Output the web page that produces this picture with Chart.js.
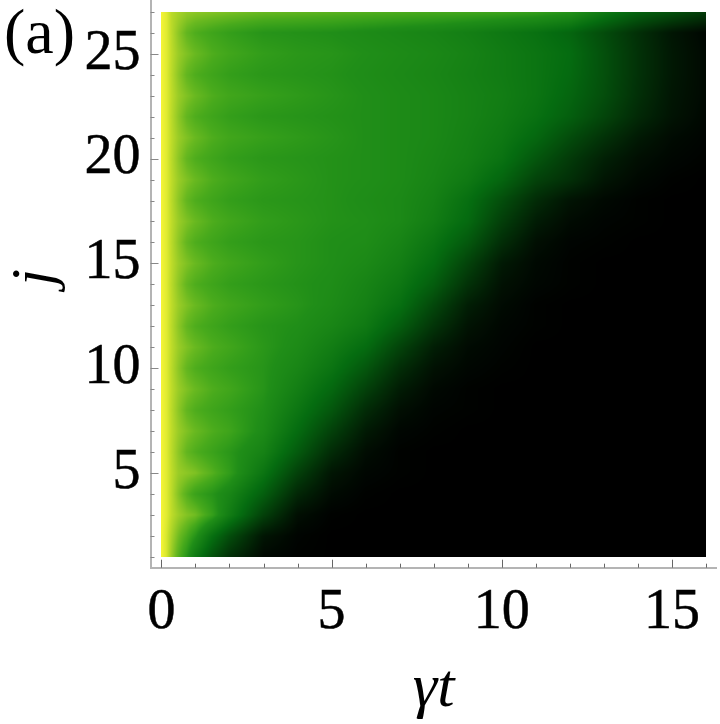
<!DOCTYPE html>
<html>
<head>
<meta charset="utf-8">
<style>
  html, body { margin: 0; background: #fff; }
  canvas { display: block; }
</style>
<script src="https://cdn.jsdelivr.net/npm/chart.js@4"></script>
</head>
<body>
<canvas id="chart" width="720" height="724"></canvas>
<script>
const panelLabel = "(a)";
const xTitle = "\u03B3t";
const yTitle = "j";
const xTickLabels = [0, 5, 10, 15];
const yTickLabels = [5, 10, 15, 20, 25];

// time samples (columns of density)
const times = [0, 0.15, 0.3, 0.5, 0.75, 1, 1.5, 2, 3, 4, 5, 6, 7, 8, 9, 10, 11, 12, 13, 14, 15, 16];
// sites (rows of density)
const sites = [1, 2, 3, 4, 5, 6, 7, 8, 9, 10, 11, 12, 13, 14, 15, 16, 17, 18, 19, 20, 21, 22, 23, 24, 25, 26, 27];

// values, first row is j=1
const density = [
  [1, .97, .90, .82, .72, .58, .38, .22, .04, .01, 0, 0, 0, 0, 0, 0, 0, 0, 0, 0, 0, 0],
  [1, .97, .92, .86, .80, .72, .52, .36, .10, .02, 0, 0, 0, 0, 0, 0, 0, 0, 0, 0, 0, 0],
  [1, .98, .945, .91, .88, .86, .76, .60, .30, .07, .01, 0, 0, 0, 0, 0, 0, 0, 0, 0, 0, 0],
  [1, .98, .94, .88, .82, .77, .72, .65, .44, .18, .05, .01, 0, 0, 0, 0, 0, 0, 0, 0, 0, 0],
  [1, .98, .945, .905, .89, .875, .82, .75, .55, .30, .10, .03, .01, 0, 0, 0, 0, 0, 0, 0, 0, 0],
  [1, .98, .94, .89, .84, .81, .77, .73, .63, .42, .20, .06, .01, 0, 0, 0, 0, 0, 0, 0, 0, 0],
  [1, .98, .945, .905, .875, .85, .81, .78, .68, .50, .30, .12, .03, .01, 0, 0, 0, 0, 0, 0, 0, 0],
  [1, .98, .94, .89, .84, .81, .78, .755, .70, .56, .40, .20, .07, .02, .01, 0, 0, 0, 0, 0, 0, 0],
  [1, .98, .945, .905, .875, .85, .81, .785, .72, .61, .48, .30, .13, .04, .01, 0, 0, 0, 0, 0, 0, 0],
  [1, .98, .94, .89, .84, .81, .78, .755, .72, .65, .55, .40, .21, .08, .03, .01, 0, 0, 0, 0, 0, 0],
  [1, .98, .945, .905, .875, .85, .81, .785, .73, .68, .60, .50, .31, .14, .05, .02, 0, 0, 0, 0, 0, 0],
  [1, .98, .94, .89, .84, .81, .78, .755, .72, .70, .65, .58, .43, .24, .09, .03, .01, 0, 0, 0, 0, 0],
  [1, .98, .945, .905, .875, .85, .81, .785, .75, .72, .68, .62, .52, .33, .14, .05, .01, 0, 0, 0, 0, 0],
  [1, .98, .94, .89, .84, .81, .78, .755, .73, .71, .69, .64, .57, .43, .23, .08, .03, .01, 0, 0, 0, 0],
  [1, .98, .945, .905, .875, .85, .81, .785, .75, .72, .70, .67, .61, .50, .31, .12, .04, .01, 0, 0, 0, 0],
  [1, .98, .94, .89, .84, .81, .78, .755, .73, .72, .70, .69, .64, .55, .41, .21, .07, .02, .01, 0, 0, 0],
  [1, .98, .945, .905, .875, .85, .81, .785, .75, .73, .71, .70, .67, .60, .49, .29, .13, .05, .02, .01, 0, 0],
  [1, .98, .94, .89, .84, .81, .78, .755, .73, .72, .71, .69, .67, .62, .52, .36, .20, .09, .04, .01, 0, 0],
  [1, .98, .945, .905, .875, .85, .81, .785, .75, .73, .71, .70, .68, .64, .58, .47, .31, .22, .10, .04, .01, 0],
  [1, .98, .94, .89, .84, .81, .78, .755, .73, .72, .71, .70, .68, .65, .61, .54, .40, .27, .15, .07, .03, .01],
  [1, .98, .945, .905, .875, .85, .81, .785, .76, .74, .72, .70, .68, .66, .62, .57, .48, .35, .23, .12, .05, .02],
  [1, .98, .94, .89, .84, .81, .78, .755, .73, .72, .71, .70, .68, .66, .63, .59, .53, .44, .32, .19, .09, .03],
  [1, .98, .945, .905, .875, .85, .81, .785, .76, .74, .72, .70, .68, .66, .63, .60, .55, .47, .36, .22, .10, .04],
  [1, .98, .94, .89, .84, .81, .78, .755, .73, .72, .71, .69, .67, .65, .62, .59, .55, .49, .37, .23, .11, .04],
  [1, .98, .945, .905, .875, .85, .81, .785, .75, .73, .72, .70, .68, .66, .63, .59, .55, .50, .37, .23, .11, .04],
  [1, .98, .94, .89, .84, .81, .78, .755, .72, .71, .70, .68, .66, .64, .61, .57, .53, .47, .35, .22, .10, .03],
  [1, .98, .94, .92, .90, .89, .88, .87, .85, .84, .83, .82, .81, .80, .79, .78, .76, .72, .58, .46, .38, .28]
];

// color scale: value, r, g, b
const colorStops = [
  [0, 0, 0, 0],
  [0.5, 5, 108, 16],
  [0.7, 32, 142, 24],
  [0.75, 50, 157, 26],
  [0.8, 72, 170, 28],
  [0.85, 105, 185, 32],
  [0.9, 150, 203, 38],
  [0.95, 195, 222, 42],
  [1, 245, 245, 55]
];

function colorAt(v) {
  let i = 1;
  while (i < colorStops.length - 1 && v > colorStops[i][0]) i++;
  const a = colorStops[i - 1], b = colorStops[i];
  const f = (v - a[0]) / (b[0] - a[0]);
  return [a[1] + f * (b[1] - a[1]), a[2] + f * (b[2] - a[2]), a[3] + f * (b[3] - a[3])];
}

function findCell(list, v) {
  let i = 0;
  while (i < list.length - 2 && v > list[i + 1]) i++;
  return [i, Math.min(1, Math.max(0, (v - list[i]) / (list[i + 1] - list[i])))];
}

// Paints the density table between its samples, positions come from the scales
const heatmap = {
  id: "heatmap",
  beforeDatasetsDraw(chart) {
    const { x, y } = chart.scales;
    const left = x.getPixelForValue(times[0]);
    const right = x.getPixelForValue(times[times.length - 1]);
    const top = y.getPixelForValue(sites[sites.length - 1]);
    const bottom = y.getPixelForValue(sites[0]);
    const w = Math.round(right - left), h = Math.round(bottom - top);
    const off = document.createElement("canvas");
    off.width = w;
    off.height = h;
    const octx = off.getContext("2d");
    const img = octx.createImageData(w, h);
    for (let py = 0; py < h; py++) {
      const [r, fr] = findCell(sites, y.getValueForPixel(top + (py + 0.5) * (bottom - top) / h));
      for (let px = 0; px < w; px++) {
        const [c, fc] = findCell(times, x.getValueForPixel(left + (px + 0.5) * (right - left) / w));
        const low = density[r][c] * (1 - fc) + density[r][c + 1] * fc;
        const high = density[r + 1][c] * (1 - fc) + density[r + 1][c + 1] * fc;
        const rgb = colorAt(low * (1 - fr) + high * fr);
        const k = (py * w + px) * 4;
        img.data[k] = rgb[0];
        img.data[k + 1] = rgb[1];
        img.data[k + 2] = rgb[2];
        img.data[k + 3] = 255;
      }
    }
    octx.putImageData(img, 0, 0);
    chart.ctx.drawImage(off, left, top, right - left, bottom - top);
  }
};

// Mathematica style ticks pointing into the frame, plus panel label and j title
const frameTicks = {
  id: "frameTicks",
  afterDraw(chart) {
    const { ctx } = chart;
    const { x, y } = chart.scales;
    ctx.save();
    ctx.lineWidth = 1;
    ctx.strokeStyle = "#666";
    x.ticks.forEach((t) => {
      const px = Math.round(x.getPixelForValue(t.value)) + 0.5;
      const len = xTickLabels.includes(t.value) ? 8 : 4;
      ctx.beginPath();
      ctx.moveTo(px, y.bottom);
      ctx.lineTo(px, y.bottom - len);
      ctx.stroke();
    });
    ctx.strokeStyle = "#888";
    y.ticks.forEach((t) => {
      const py = Math.round(y.getPixelForValue(t.value)) + 0.5;
      const len = yTickLabels.includes(t.value) ? 8 : 4;
      ctx.beginPath();
      ctx.moveTo(x.left, py);
      ctx.lineTo(x.left + len, py);
      ctx.stroke();
    });
    ctx.fillStyle = "#000";
    ctx.font = '64px "Liberation Serif"';
    ctx.textAlign = "left";
    ctx.textBaseline = "alphabetic";
    ctx.fillText(panelLabel, 4, 53);

    ctx.translate(36, 277.5);
    ctx.rotate(-Math.PI / 2);
    ctx.font = 'italic 60px "Liberation Serif"';
    ctx.textAlign = "center";
    ctx.textBaseline = "middle";
    ctx.fillText(yTitle, 0, 0);
    ctx.restore();
  }
};

const points = [];
sites.forEach((j, r) => times.forEach((t, c) => points.push({ x: t, y: j, v: density[r][c] })));

new Chart(document.getElementById("chart"), {
  type: "scatter",
  data: { datasets: [{ data: points, pointRadius: 0, pointHoverRadius: 0, showLine: false }] },
  options: {
    responsive: false,
    animation: false,
    events: [],
    layout: { padding: { top: 1, right: 3.1, left: 0, bottom: 0 } },
    plugins: { legend: { display: false }, tooltip: { enabled: false } },
    scales: {
      x: {
        type: "linear",
        min: -0.32,
        max: 16.32,
        afterBuildTicks(scale) {
          scale.ticks = times.filter(Number.isInteger).map((value) => ({ value }));
        },
        afterFit(scale) {
          scale.height = 156.3;
          scale.paddingLeft = 0;
          scale.paddingRight = 0;
        },
        grid: { display: false, drawTicks: false },
        border: { color: "#b4b4b4", width: 2 },
        ticks: {
          autoSkip: false,
          maxRotation: 0,
          padding: 12,
          color: "#000",
          textStrokeColor: "#000",
          textStrokeWidth: 0.5,
          font: { family: "Liberation Serif", size: 56 },
          callback: (v) => (xTickLabels.includes(v) ? String(v) : "")
        },
        title: {
          display: true,
          text: xTitle,
          color: "#000",
          padding: { top: 0, bottom: -3 },
          font: { family: "Liberation Serif", size: 62, style: "italic" }
        }
      },
      y: {
        type: "linear",
        min: 0.48,
        max: 27.52,
        afterBuildTicks(scale) {
          scale.ticks = sites.map((value) => ({ value }));
        },
        afterFit(scale) {
          scale.width = 150.5;
          scale.paddingTop = 0;
          scale.paddingBottom = 0;
        },
        grid: { display: false, drawTicks: false },
        border: { color: "#b4b4b4", width: 2 },
        ticks: {
          autoSkip: false,
          padding: 10,
          color: "#000",
          textStrokeColor: "#000",
          textStrokeWidth: 0.5,
          font: { family: "Liberation Serif", size: 56 },
          callback: (v) => (yTickLabels.includes(v) ? String(v) : "")
        }
      }
    }
  },
  plugins: [heatmap, frameTicks]
});
</script>
</body>
</html>
